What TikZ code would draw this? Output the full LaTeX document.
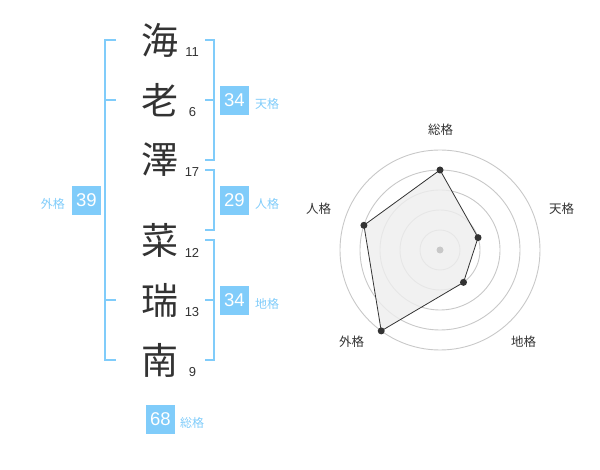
\documentclass[tikz,border=0pt]{standalone}
\usepackage{fontspec}
\setmainfont{Liberation Sans}
\newfontfamily\cjk{Noto Sans CJK JP}
\definecolor{kblue}{RGB}{128,204,250}
\definecolor{kdark}{RGB}{51,51,51}
\definecolor{kgrid}{RGB}{200,200,200}
\definecolor{kfill}{RGB}{238,238,238}
\begin{document}
\begin{tikzpicture}[x=1pt,y=-1pt,
  kanji/.style={font=\cjk\fontsize{37}{40}\selectfont, text=kdark, inner sep=0pt},
  strokes/.style={font=\fontsize{13}{15}\selectfont, text=kdark, inner sep=0pt},
  scorebox/.style={fill=kblue, text=white, font=\fontsize{18.5}{20}\selectfont, minimum width=29pt, minimum height=29pt, inner sep=0pt},
  kaku/.style={font=\cjk\fontsize{12}{14}\selectfont, text=kblue, inner sep=0pt},
  bracket/.style={draw=kblue, line width=2pt, line join=miter},
  grid/.style={draw=kgrid, line width=0.9pt},
  dot/.style={circle, fill=kdark, inner sep=0pt, minimum size=7pt},
  axislabel/.style={font=\cjk\fontsize{12.5}{14}\selectfont, text=kdark, inner sep=0pt}]
\useasboundingbox (0,0) rectangle (600,470);
% name characters
\node[kanji] (c1) at (160,40) {海};
\node[kanji] (c2) at (160,100) {老};
\node[kanji] (c3) at (160,160) {澤};
\node[kanji] (c4) at (160,240) {菜};
\node[kanji] (c5) at (160,300) {瑞};
\node[kanji] (c6) at (160,360) {南};
% stroke counts
\node[strokes] (n1) at (192,52.5) {11};
\node[strokes] (n2) at (192.5,112.5) {6};
\node[strokes] (n3) at (192,172.5) {17};
\node[strokes] (n4) at (192,252.5) {12};
\node[strokes] (n5) at (192,312.5) {13};
\node[strokes] (n6) at (192.5,372.5) {9};
% brackets
\draw[bracket] (116,40) -- (105,40) -- (105,360) -- (116,360);
\draw[bracket] (105,100) -- (116,100);
\draw[bracket] (105,300) -- (116,300);
\draw[bracket] (205,40) -- (214,40) -- (214,160) -- (205,160);
\draw[bracket] (205,100) -- (214,100);
\draw[bracket] (205,170) -- (214,170) -- (214,230) -- (205,230);
\draw[bracket] (205,240) -- (214,240) -- (214,360) -- (205,360);
\draw[bracket] (205,300) -- (214,300);
% score boxes
\node[scorebox] (ten) at (234.5,100.5) {34};
\node[kaku, anchor=west] (tenl) at (255,104) {天格};
\node[scorebox] (jin) at (234.5,200.5) {29};
\node[kaku, anchor=west] (jinl) at (255,204) {人格};
\node[scorebox] (chi) at (234.5,300.5) {34};
\node[kaku, anchor=west] (chil) at (255,304) {地格};
\node[scorebox] (gai) at (86.5,200.5) {39};
\node[kaku, anchor=east] (gail) at (65,204) {外格};
\node[scorebox] (sou) at (160.5,419) {68};
\node[kaku, anchor=west] (soul) at (180,422.5) {総格};
% radar chart
\coordinate (C) at (440,250);
\foreach \r in {20,40,60,80,100} \draw[grid] (C) circle[radius=\r];
\coordinate (pS) at (440,170);
\coordinate (pT) at (478.04,237.64);
\coordinate (pC) at (463.51,282.36);
\coordinate (pG) at (381.22,330.90);
\coordinate (pJ) at (363.92,225.28);
\draw[fill=kfill, fill opacity=0.8, draw=kdark, line width=0.8pt] (pS) -- (pT) -- (pC) -- (pG) -- (pJ) -- cycle;
\foreach \p in {pS,pT,pC,pG,pJ} \node[dot] at (\p) {};
\node[circle, fill=kgrid, inner sep=0pt, minimum size=7pt] (cd) at (C) {};
\node[axislabel] (lS) at (440.5,130) {総格};
\node[axislabel] (lT) at (561.5,208.5) {天格};
\node[axislabel] (lC) at (523.5,341.5) {地格};
\node[axislabel] (lG) at (351.5,341.5) {外格};
\node[axislabel] (lJ) at (318.5,208.5) {人格};
\end{tikzpicture}
\end{document}
